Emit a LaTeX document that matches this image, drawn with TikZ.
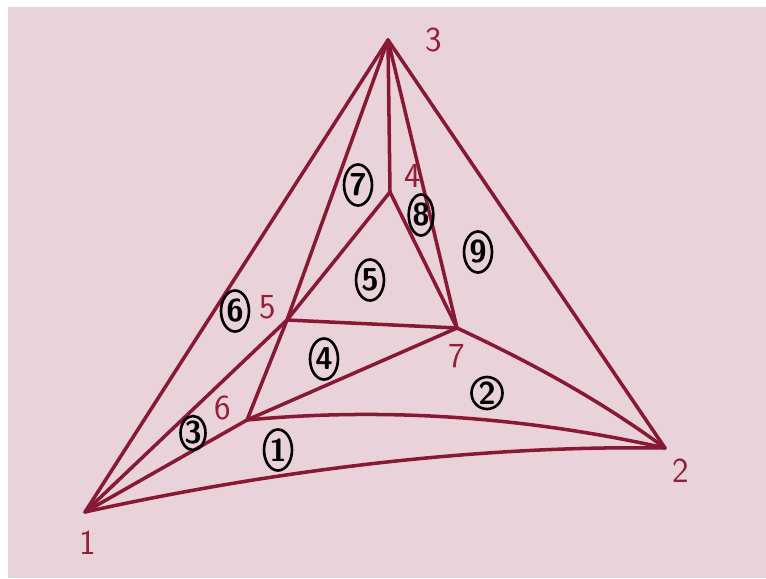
\documentclass[tikz,border=0pt]{standalone}
\usepackage{tikz}
\usetikzlibrary{shapes.geometric}
\definecolor{boardPink}{RGB}{234,210,218}
\definecolor{penRed}{RGB}{135,25,52}
\definecolor{numRed}{RGB}{150,30,58}

\begin{document}
\begin{tikzpicture}[x=0.02cm, y=-0.02cm,
    edge/.style={penRed, line width=2pt, line cap=round, line join=round},
    vlabel/.style={numRed, font=\sffamily\fontsize{20}{20}\selectfont},
    tri/.style={draw=black, ellipse, line width=1.5pt, inner sep=0pt,
      minimum width=0.56cm, minimum height=0.82cm,
      font=\sffamily\bfseries\fontsize{18}{18}\selectfont}]
    % board
    \fill[white] (0,0) rectangle (766,578);
    \fill[boardPink] (8,7) rectangle (766,578);
    % vertices
    \coordinate (v1) at (85,512);
    \coordinate (v2) at (665,448);
    \coordinate (v3) at (388,40);
    \coordinate (v4) at (390,192);
    \coordinate (v5) at (287,320);
    \coordinate (v6) at (247,420);
    \coordinate (v7) at (457,328);
    % outer edges
    \draw[edge] (v3) -- (v1);
    \draw[edge] (v3) -- (v2);
    \draw[edge] (v1) .. controls (275,470) and (480,445) .. (v2);
    % inner edges
    \draw[edge] (v1) -- (v5);
    \draw[edge] (v1) -- (v6);
    \draw[edge] (v6) .. controls (386,407) and (526,417) .. (v2);
    \draw[edge] (v7) .. controls (530,362) and (600,400) .. (v2);
    \draw[edge] (v3) -- (v5);
    \draw[edge] (v3) -- (v4);
    \draw[edge] (v3) -- (v7);
    \draw[edge] (v4) -- (v5);
    \draw[edge] (v4) -- (v7);
    \draw[edge] (v5) -- (v7);
    \draw[edge] (v5) -- (v6);
    \draw[edge] (v6) -- (v7);
    % vertex numbers
    \node[vlabel] (n1) at (88,543) {1};
    \node[vlabel] (n2) at (681,471) {2};
    \node[vlabel] (n3) at (434,40) {3};
    \node[vlabel] (n4) at (413,176) {4};
    \node[vlabel] (n5) at (268,307) {5};
    \node[vlabel] (n6) at (223,408) {6};
    \node[vlabel] (n7) at (457,356) {7};
    % triangle numbers
    \node[tri] (t1) at (278,450) {1};
    \node[tri, minimum width=0.62cm, minimum height=0.62cm] (t2) at (487,393) {2};
    \node[tri, minimum width=0.5cm, minimum height=0.68cm] (t3) at (193,433) {3};
    \node[tri] (t4) at (324,359) {4};
    \node[tri] (t5) at (370,280) {5};
    \node[tri] (t6) at (235,311) {6};
    \node[tri] (t7) at (358,185) {7};
    \node[tri, minimum width=0.48cm] (t8) at (421,215) {8};
    \node[tri] (t9) at (478,252) {9};
\end{tikzpicture}
\end{document}
